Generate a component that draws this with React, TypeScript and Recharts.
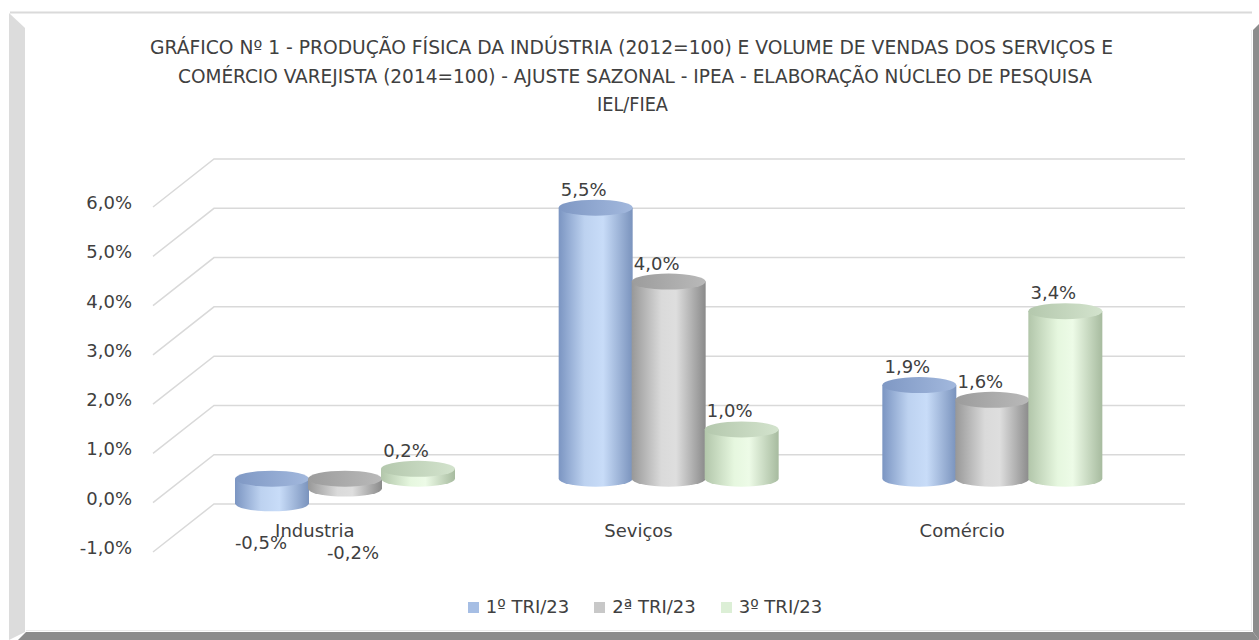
import React from 'react';
import { BarChart, Bar, XAxis, YAxis, CartesianGrid, LabelList } from 'recharts';

const categories = ['Industria', 'Seviços', 'Comércio'];
const tri1 = [-0.5, 5.5, 1.9];
const tri2 = [-0.2, 4.0, 1.6];
const tri3 = [0.2, 1.0, 3.4];
const seriesNames = ['1º TRI/23', '2ª TRI/23', '3º TRI/23'];
const yTicks = [-1, 0, 1, 2, 3, 4, 5, 6];
const titleLines = [
  'GRÁFICO Nº 1 - PRODUÇÃO FÍSICA DA INDÚSTRIA (2012=100) E VOLUME DE VENDAS DOS SERVIÇOS E',
  'COMÉRCIO VAREJISTA (2014=100) - AJUSTE SAZONAL - IPEA - ELABORAÇÃO NÚCLEO DE PESQUISA',
  'IEL/FIEA',
];

const data = categories.map((name, i) => ({
  name,
  t1: tri1[i],
  t2: tri2[i],
  t3: tri3[i],
}));

// 3d look: bars sit half way into the depth, walls at full depth
const DX = 30;
const DY = -24;
const BACK_X = 61;
const BACK_Y = -48;
const RY = 8;

const TXT = '#404040';
const FONT = '"DejaVu Sans", sans-serif';

const series = [
  { key: 't1', gid: 'gBlue', legend: '#a6bee4', neg: { dx: 19, dy: 46 } },
  { key: 't2', gid: 'gGrey', legend: '#c8c8c8', neg: { dx: 38, dy: 56 } },
  { key: 't3', gid: 'gGreen', legend: '#dcefd6', neg: { dx: 19, dy: 46 } },
];

const fmt = (v: number) => v.toFixed(1).replace('.', ',') + '%';

const Cylinder = (props: any) => {
  const { x, y, width, height, gid } = props;
  if (x == null || y == null) return null;
  const top = Math.min(y, y + height) + DY;
  const bot = Math.max(y, y + height) + DY;
  const l = x + DX;
  const r = l + width;
  const rx = width / 2;
  return (
    <g>
      <path
        d={`M${l},${top} L${l},${bot} A${rx},${RY} 0 0 0 ${r},${bot} L${r},${top} Z`}
        fill={`url(#${gid})`}
      />
      <ellipse cx={l + rx} cy={top} rx={rx} ry={RY} fill={`url(#${gid}Top)`} />
    </g>
  );
};

const makeLabel = (neg: { dx: number; dy: number }) => (props: any) => {
  const { x, y, width, height, value } = props;
  if (value == null) return null;
  const cx = x + width / 2;
  if (value >= 0) {
    const top = Math.min(y, y + height) + DY;
    return (
      <text x={cx + 18} y={top - 12} textAnchor="middle" fill={TXT} fontSize={18} fontFamily={FONT}>
        {fmt(value)}
      </text>
    );
  }
  const zero = Math.min(y, y + height);
  return (
    <text x={cx + neg.dx} y={zero + neg.dy} textAnchor="middle" fill={TXT} fontSize={18} fontFamily={FONT}>
      {fmt(value)}
    </text>
  );
};

const gridLine = (p: any) => {
  const { x1, y1, x2, index } = p;
  return (
    <polyline
      key={`g-${index}-${y1}`}
      points={`${x1},${y1} ${x1 + BACK_X},${y1 + BACK_Y} ${x2 + BACK_X},${y1 + BACK_Y}`}
      fill="none"
      stroke="#d9d9d9"
      strokeWidth={1.5}
    />
  );
};

const YTick = (p: any) => (
  <text x={p.x} y={p.y + 2} textAnchor="end" fill={TXT} fontSize={18} fontFamily={FONT}>
    {fmt(p.payload.value)}
  </text>
);

const XTick = (p: any) => (
  <text x={p.x} y={p.y - 15} textAnchor="middle" fill={TXT} fontSize={18} fontFamily={FONT}>
    {p.payload.value}
  </text>
);

const Frame = () => (
  <svg width={1259} height={640} style={{ position: 'absolute', left: 0, top: 0 }}>
    <defs>
      <linearGradient id="gBlue" x1="0" y1="0" x2="1" y2="0">
        <stop offset="0%" stopColor="#7b95c2" />
        <stop offset="35%" stopColor="#bdd2f0" />
        <stop offset="60%" stopColor="#c8dcf8" />
        <stop offset="100%" stopColor="#7a93bd" />
      </linearGradient>
      <linearGradient id="gBlueTop" x1="0" y1="0" x2="1" y2="0">
        <stop offset="0%" stopColor="#7f98c4" />
        <stop offset="100%" stopColor="#a2b8dd" />
      </linearGradient>
      <linearGradient id="gGrey" x1="0" y1="0" x2="1" y2="0">
        <stop offset="0%" stopColor="#989898" />
        <stop offset="40%" stopColor="#dadada" />
        <stop offset="60%" stopColor="#dedede" />
        <stop offset="100%" stopColor="#8a8a8a" />
      </linearGradient>
      <linearGradient id="gGreyTop" x1="0" y1="0" x2="1" y2="0">
        <stop offset="0%" stopColor="#9c9c9c" />
        <stop offset="100%" stopColor="#b9b9b9" />
      </linearGradient>
      <linearGradient id="gGreen" x1="0" y1="0" x2="1" y2="0">
        <stop offset="0%" stopColor="#b2c6aa" />
        <stop offset="40%" stopColor="#e6f7df" />
        <stop offset="60%" stopColor="#edfbe7" />
        <stop offset="100%" stopColor="#a7bb9f" />
      </linearGradient>
      <linearGradient id="gGreenTop" x1="0" y1="0" x2="1" y2="0">
        <stop offset="0%" stopColor="#b4c8ad" />
        <stop offset="100%" stopColor="#d3e3cd" />
      </linearGradient>
    </defs>
    <rect x={0} y={0} width={1259} height={640} fill="#fff" />
    <line x1={10} y1={12.5} x2={1252} y2={12.5} stroke="#dadada" strokeWidth={2} />
    <polygon points="9,13 25,28 25,632 9,640" fill="#dcdcdc" />
    <polygon points="18,640 26,632 1253,632 1259,640" fill="#8c8c8c" />
    <polygon points="1253,30 1259,24 1259,640 1253,632" fill="#8c8c8c" />
    <line x1={26} y1={630.5} x2={1251} y2={630.5} stroke="#ececec" strokeWidth={1} />
    <line x1={1251.5} y1={30} x2={1251.5} y2={631} stroke="#ececec" strokeWidth={1} />
    {titleLines.map((t, i) => (
      <text
        key={i}
        x={[150, 178, 597][i]}
        y={54 + i * 28.5}
        textLength={[963, 914, 71][i]}
        lengthAdjust="spacingAndGlyphs"
        fill={TXT}
        fontSize={19}
        fontFamily={'"DejaVu Sans Condensed", "Liberation Sans Narrow", "DejaVu Sans", sans-serif'}
      >
        {t}
      </text>
    ))}
  </svg>
);

const LegendBox = () => (
  <div
    style={{
      position: 'absolute',
      left: 0,
      top: 596,
      width: 1290,
      display: 'flex',
      justifyContent: 'center',
      gap: 25,
      fontFamily: FONT,
      fontSize: 18,
      color: TXT,
      lineHeight: '22px',
    }}
  >
    {series.map((s, i) => (
      <span key={s.key} style={{ display: 'flex', alignItems: 'center', gap: 7 }}>
        <span style={{ width: 11, height: 11, background: s.legend, display: 'inline-block' }} />
        {seriesNames[i]}
      </span>
    ))}
  </div>
);

export default function App() {
  return (
    <div style={{ position: 'absolute', left: 0, top: 0, width: 1259, height: 640, overflow: 'hidden' }}>
      <Frame />
      <div style={{ position: 'absolute', left: 0, top: 0 }}>
        <BarChart
          width={1259}
          height={640}
          data={data}
          margin={{ top: 207, right: 135, left: 93, bottom: 58 }}
          barSize={74}
          barGap={-1}
        >
          <CartesianGrid vertical={false} horizontal={gridLine} />
          <XAxis
            dataKey="name"
            height={30}
            axisLine={false}
            tickLine={false}
            tickSize={0}
            tickMargin={0}
            tick={<XTick />}
          />
          <YAxis
            width={60}
            domain={[-1, 6]}
            ticks={yTicks}
            axisLine={false}
            tickLine={false}
            tickSize={0}
            tickMargin={21}
            tick={<YTick />}
          />
          {series.map((s) => (
            <Bar
              key={s.key}
              dataKey={s.key}
              isAnimationActive={false}
              shape={(p: any) => <Cylinder {...p} gid={s.gid} />}
            >
              <LabelList dataKey={s.key} content={makeLabel(s.neg)} />
            </Bar>
          ))}
        </BarChart>
      </div>
      <LegendBox />
    </div>
  );
}
